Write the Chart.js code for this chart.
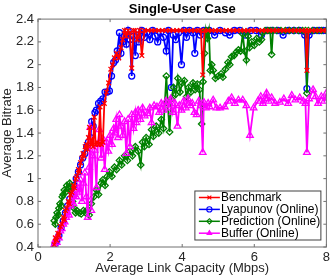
<!DOCTYPE html>
<html>
<head>
<meta charset="utf-8">
<script src="https://cdn.jsdelivr.net/npm/chart.js"></script>
<style>
  html, body { margin: 0; padding: 0; background: #fff; }
</style>
</head>
<body>
<canvas id="chart" width="333" height="278"></canvas>
<script>
// tick values and labels
const xTicks = [0, 2, 4, 6, 8];
const xTickLabels = ['0', '2', '4', '6', '8'];
const yTicks = [0.4, 0.6, 0.8, 1.0, 1.2, 1.4, 1.6, 1.8, 2.0, 2.2, 2.4];
const yTickLabels = ['0.4', '0.6', '0.8', '1', '1.2', '1.4', '1.6', '1.8', '2', '2.2', '2.4'];

// Benchmark
const benchX = [0.45,0.48,0.52,0.55,0.58,0.62,0.66,0.70,0.73,0.76,
  0.80,0.84,0.87,0.90,0.94,0.98,1.01,1.05,1.08,1.12,
  1.15,1.18,1.22,1.25,1.28,1.31,1.34,1.37,1.40,1.43,
  1.46,1.50,1.53,1.56,1.60,1.64,1.68,1.72,1.76,1.80,
  1.84,1.90,1.96,2.02,2.07,2.12,2.18,2.24,2.30,2.35,
  2.40,2.45,2.50,2.55,2.60,2.65,2.70,2.75,2.82,2.88,
  2.95,3.05,3.15,3.25,3.35,3.45,3.55,3.65,3.75,3.85,
  3.95,4.05,4.15,4.25,4.35,4.45,4.52,4.57,4.62,4.72,
  4.82,4.92,5.02,5.12,5.22,5.32,5.42,5.52,5.62,5.72,
  5.82,5.92,6.02,6.12,6.22,6.32,6.42,6.52,6.62,6.72,
  6.82,6.92,7.02,7.12,7.22,7.32,7.42,7.46,7.50,7.60,
  7.70,7.80,7.90,8.00];
const benchY = [0.42,0.48,0.46,0.52,0.50,0.58,0.60,0.66,0.64,0.72,
  0.74,0.80,0.78,0.86,0.88,0.94,0.92,1.00,1.02,1.08,
  1.06,1.14,1.18,1.22,1.20,1.28,1.30,1.26,1.36,1.45,
  1.30,1.34,1.28,1.54,1.30,1.32,1.30,1.63,1.30,1.32,
  1.66,1.76,1.84,1.96,2.00,2.06,2.10,2.06,2.15,2.22,
  2.30,2.25,2.30,2.28,1.97,2.30,2.30,2.22,2.30,2.08,
  2.30,2.30,2.30,2.30,2.30,2.30,2.30,2.30,2.30,2.30,
  2.30,2.30,2.30,2.30,2.30,2.30,2.30,1.91,2.30,2.30,
  2.30,2.30,2.30,2.30,2.30,2.30,2.30,2.30,2.30,2.30,
  2.30,2.30,2.30,2.30,2.30,2.30,2.30,2.30,2.30,2.30,
  2.30,2.30,2.30,2.30,2.30,2.30,2.30,1.95,2.30,2.30,
  2.30,2.30,2.30,2.30];

// Lyapunov (Online)
const lyapX = [0.47,0.52,0.58,0.64,0.70,0.76,0.82,0.88,0.94,1.00,
  1.06,1.12,1.18,1.24,1.30,1.35,1.40,1.46,1.49,1.53,
  1.58,1.62,1.68,1.74,1.80,1.86,1.92,1.98,2.04,2.10,
  2.15,2.20,2.26,2.30,2.35,2.40,2.45,2.50,2.55,2.60,
  2.65,2.70,2.75,2.80,2.88,2.95,3.02,3.10,3.18,3.25,
  3.32,3.40,3.48,3.56,3.62,3.70,3.75,3.82,3.90,3.98,
  4.05,4.12,4.20,4.30,4.35,4.42,4.50,4.60,4.75,4.90,
  5.05,5.20,5.32,5.45,5.60,5.75,5.90,6.05,6.20,6.35,
  6.50,6.65,6.80,6.95,7.10,7.25,7.40,7.46,7.52,7.65,
  7.80,7.92,8.00];
const lyapY = [0.42,0.45,0.50,0.57,0.63,0.70,0.76,0.82,0.88,0.94,
  1.00,1.06,1.12,1.18,1.22,1.28,1.32,1.36,1.50,1.46,
  1.58,1.60,1.66,1.68,1.70,1.76,1.76,1.77,1.90,2.02,
  2.04,2.12,2.28,2.10,2.20,2.25,2.18,2.30,2.22,1.90,
  2.25,2.08,2.26,2.20,2.30,2.24,2.28,2.22,2.30,2.25,
  2.20,2.28,2.24,2.12,2.30,1.80,2.26,2.22,2.28,2.00,
  2.30,2.24,2.30,2.28,2.10,2.30,2.26,2.30,2.30,2.26,
  2.30,2.28,2.26,2.30,2.30,2.26,2.30,2.30,2.26,2.30,
  2.30,2.30,2.26,2.30,2.30,2.30,2.26,1.79,2.26,2.30,
  2.30,2.30,2.30];

// Prediction (Online)
const predX = [0.45,0.48,0.50,0.53,0.56,0.58,0.61,0.64,0.67,0.70,
  0.73,0.76,0.80,0.84,0.88,0.92,0.96,1.00,1.04,1.08,
  1.14,1.20,1.26,1.32,1.38,1.42,1.48,1.55,1.62,1.68,
  1.75,1.80,1.86,1.92,1.98,2.05,2.12,2.18,2.26,2.32,
  2.40,2.48,2.55,2.62,2.70,2.78,2.85,2.90,2.95,3.00,
  3.08,3.15,3.20,3.28,3.35,3.42,3.48,3.56,3.60,3.65,
  3.70,3.76,3.82,3.88,3.94,4.00,4.06,4.12,4.18,4.24,
  4.30,4.36,4.42,4.48,4.54,4.58,4.62,4.66,4.70,4.74,
  4.78,4.82,4.86,4.92,5.00,5.08,5.13,5.20,5.27,5.32,
  5.37,5.44,5.50,5.56,5.62,5.68,5.73,5.78,5.83,5.87,
  5.93,6.00,6.07,6.14,6.20,6.24,6.30,6.38,6.44,6.48,
  6.52,6.62,6.74,6.86,6.98,7.10,7.22,7.34,7.42,7.46,
  7.50,7.62,7.74,7.86,8.00];
const predY = [0.63,0.60,0.66,0.70,0.68,0.74,0.78,0.76,0.84,0.86,
  0.90,0.88,0.94,0.92,0.96,0.90,0.80,0.74,0.70,0.72,
  0.70,0.69,0.72,0.70,0.73,0.68,0.78,0.84,0.90,0.86,
  0.96,0.99,0.94,1.02,1.06,1.02,1.10,1.08,1.16,1.12,
  1.20,1.16,1.24,1.20,1.28,1.24,1.12,1.32,1.28,1.36,
  1.30,1.43,1.37,1.46,1.40,1.52,1.44,1.90,1.66,1.41,
  1.70,1.80,1.74,1.88,1.76,1.84,1.86,1.72,1.80,1.76,
  1.84,1.78,1.83,1.78,1.48,1.85,2.10,2.30,2.23,2.30,
  1.95,2.00,1.95,1.88,1.90,1.92,1.89,1.96,2.02,2.00,
  2.07,2.08,2.11,2.13,2.12,2.27,2.12,2.04,2.25,2.15,
  2.20,2.17,2.23,2.20,2.22,2.28,2.30,2.30,2.30,2.09,
  2.30,2.30,2.30,2.30,2.30,2.30,2.30,2.30,2.30,1.75,
  2.30,2.30,2.30,2.30,2.30];

// Buffer (Online)
const bufX = [0.45,0.48,0.52,0.55,0.58,0.62,0.66,0.70,0.74,0.78,
  0.82,0.86,0.90,0.94,0.98,1.02,1.06,1.10,1.14,1.18,
  1.22,1.26,1.30,1.34,1.38,1.42,1.45,1.48,1.52,1.57,
  1.62,1.66,1.70,1.75,1.80,1.85,1.90,1.95,2.00,2.05,
  2.10,2.13,2.17,2.22,2.26,2.30,2.35,2.40,2.45,2.50,
  2.55,2.60,2.65,2.70,2.73,2.78,2.84,2.90,2.96,3.04,
  3.10,3.15,3.22,3.30,3.36,3.42,3.48,3.55,3.62,3.68,
  3.74,3.80,3.87,3.92,3.98,4.04,4.10,4.16,4.22,4.28,
  4.34,4.40,4.46,4.52,4.57,4.60,4.66,4.72,4.76,4.86,
  4.95,5.05,5.18,5.28,5.37,5.46,5.56,5.68,5.78,5.88,
  5.98,6.10,6.18,6.24,6.30,6.34,6.40,6.48,6.58,6.71,
  6.82,6.94,7.04,7.14,7.26,7.36,7.42,7.46,7.52,7.63,
  7.70,7.77,7.86,7.94,8.00];
const bufY = [0.42,0.46,0.44,0.50,0.48,0.54,0.56,0.60,0.62,0.66,
  0.70,0.68,0.76,0.80,0.78,0.86,0.84,0.92,0.88,0.99,
  0.80,0.96,1.05,0.84,0.66,1.10,1.45,0.72,1.20,1.25,
  0.92,1.30,1.43,1.18,1.35,1.08,1.32,1.24,1.38,1.30,
  1.44,1.40,1.52,1.36,1.56,1.46,1.38,1.50,1.22,1.52,
  1.28,1.56,1.44,1.58,1.49,1.60,1.52,1.62,1.55,1.57,
  1.62,1.49,1.64,1.63,1.58,1.66,1.60,1.68,1.62,1.70,
  1.58,1.66,1.46,1.64,1.60,1.68,1.62,1.70,1.64,1.66,
  1.58,1.56,1.68,1.64,1.23,1.67,1.62,1.66,1.63,1.69,
  1.62,1.62,1.63,1.68,1.71,1.66,1.69,1.69,1.64,1.38,
  1.62,1.68,1.72,1.66,1.70,1.75,1.68,1.71,1.66,1.67,
  1.70,1.66,1.73,1.69,1.71,1.68,1.66,1.23,1.70,1.78,
  1.72,1.66,1.72,1.68,1.75];

const FONT = "'Liberation Sans', Arial, Helvetica, sans-serif";
Chart.defaults.font.family = FONT;

function pts(xs, ys) {
  return xs.map((x, i) => ({ x: x, y: ys[i] }));
}

function series(label, xs, ys, color, style, r, order) {
  return {
    label: label,
    data: pts(xs, ys),
    showLine: true,
    borderColor: color,
    backgroundColor: 'rgba(0,0,0,0)',
    borderWidth: 1.8,
    pointStyle: style,
    pointRadius: r,
    pointBorderWidth: 1.3,
    pointBorderColor: color,
    pointBackgroundColor: 'rgba(0,0,0,0)',
    pointHoverRadius: r,
    tension: 0,
    order: order
  };
}

// marker for the legend
function marker(ctx, style, x, y, r) {
  ctx.beginPath();
  if (style === 'circle') {
    ctx.arc(x, y, r, 0, Math.PI * 2);
  } else if (style === 'rectRot') {
    ctx.moveTo(x, y - r); ctx.lineTo(x + r, y); ctx.lineTo(x, y + r); ctx.lineTo(x - r, y); ctx.closePath();
  } else if (style === 'triangle') {
    ctx.moveTo(x, y - r); ctx.lineTo(x + r * 0.87, y + r * 0.5); ctx.lineTo(x - r * 0.87, y + r * 0.5); ctx.closePath();
    ctx.fillStyle = ctx.strokeStyle; ctx.fill();
  } else {
    const d = r * 0.75;
    ctx.moveTo(x - d, y - d); ctx.lineTo(x + d, y + d);
    ctx.moveTo(x + d, y - d); ctx.lineTo(x - d, y + d);
  }
  ctx.stroke();
}

// box round the axes with inward ticks, like matlab
const frame = {
  id: 'frame',
  afterDatasetsDraw(chart) {
    const ctx = chart.ctx;
    const a = chart.chartArea;
    const xs = chart.scales.x, ys = chart.scales.y;
    ctx.save();
    ctx.strokeStyle = '#707070';
    ctx.lineWidth = 1;
    ctx.strokeRect(a.left, a.top, a.right - a.left, a.bottom - a.top);
    ctx.beginPath();
    xTicks.forEach(v => {
      const p = xs.getPixelForValue(v);
      ctx.moveTo(p, a.bottom); ctx.lineTo(p, a.bottom - 3);
      ctx.moveTo(p, a.top); ctx.lineTo(p, a.top + 3);
    });
    yTicks.forEach(v => {
      const p = ys.getPixelForValue(v);
      ctx.moveTo(a.left, p); ctx.lineTo(a.left + 3, p);
      ctx.moveTo(a.right, p); ctx.lineTo(a.right - 3, p);
    });
    ctx.stroke();
    ctx.restore();
  }
};

// legend inside the axes, bottom right
const boxLegend = {
  id: 'boxLegend',
  afterDraw(chart) {
    const ctx = chart.ctx;
    const a = chart.chartArea;
    const w = 126, h = 49;
    const left = a.right - 131.5, top = a.bottom - 56;
    ctx.save();
    ctx.fillStyle = '#fff';
    ctx.fillRect(left, top, w, h);
    ctx.strokeStyle = '#404040';
    ctx.lineWidth = 1;
    ctx.strokeRect(left, top, w, h);
    ctx.font = '12px ' + FONT;
    ctx.textBaseline = 'middle';
    ctx.textAlign = 'left';
    chart.data.datasets.forEach((ds, i) => {
      const y = top + 6.5 + i * 11.9;
      ctx.strokeStyle = ds.borderColor;
      ctx.lineWidth = 1.5;
      ctx.beginPath();
      ctx.moveTo(left + 4, y); ctx.lineTo(left + 25, y);
      ctx.stroke();
      ctx.lineWidth = 1.1;
      marker(ctx, ds.pointStyle, left + 14.5, y, 2.6);
      ctx.fillStyle = '#000';
      ctx.fillText(ds.label, left + 26, y + 0.5);
    });
    ctx.restore();
  }
};

new Chart(document.getElementById('chart').getContext('2d'), {
  type: 'scatter',
  data: {
    datasets: [
      series('Benchmark', benchX, benchY, '#ff0000', 'crossRot', 3.3, 0),
      series('Lyapunov (Online)', lyapX, lyapY, '#0000ff', 'circle', 3, 3),
      series('Prediction (Online)', predX, predY, '#008000', 'rectRot', 3.2, 2),
      series('Buffer (Online)', bufX, bufY, '#ff00ff', 'triangle', 3.8, 1)
    ]
  },
  options: {
    responsive: false,
    animation: false,
    events: [],
    layout: { padding: { left: 0, right: 6.5, top: 0, bottom: 0 } },
    plugins: {
      legend: { display: false },
      tooltip: { enabled: false },
      title: {
        display: true,
        fullSize: false,
        text: 'Single-User Case',
        color: '#000',
        font: { size: 13, weight: 'bold' },
        padding: { top: 1.5, bottom: 2 }
      }
    },
    scales: {
      x: {
        type: 'linear',
        min: 0,
        max: 8,
        afterBuildTicks: s => { s.ticks = xTicks.map(v => ({ value: v })); },
        afterFit: s => { s.height = 31; },
        grid: { display: false, drawTicks: false },
        border: { display: false },
        ticks: {
          callback: (v, i) => xTickLabels[i],
          color: '#262626',
          font: { size: 13 },
          padding: 3,
          maxRotation: 0,
          autoSkip: false
        },
        title: {
          display: true,
          text: 'Average Link Capacity (Mbps)',
          color: '#262626',
          font: { size: 13 },
          padding: { top: 0, bottom: 2 }
        }
      },
      y: {
        min: 0.4,
        max: 2.4,
        afterBuildTicks: s => { s.ticks = yTicks.map(v => ({ value: v })); },
        afterFit: s => { s.width = 38; },
        grid: { display: false, drawTicks: false },
        border: { display: false },
        ticks: {
          callback: (v, i) => yTickLabels[i],
          color: '#262626',
          font: { size: 13 },
          padding: 4,
          autoSkip: false
        },
        title: {
          display: true,
          text: 'Average Bitrate',
          color: '#262626',
          font: { size: 13 },
          padding: { top: 0, bottom: 0 }
        }
      }
    }
  },
  plugins: [frame, boxLegend]
});
</script>
</body>
</html>
